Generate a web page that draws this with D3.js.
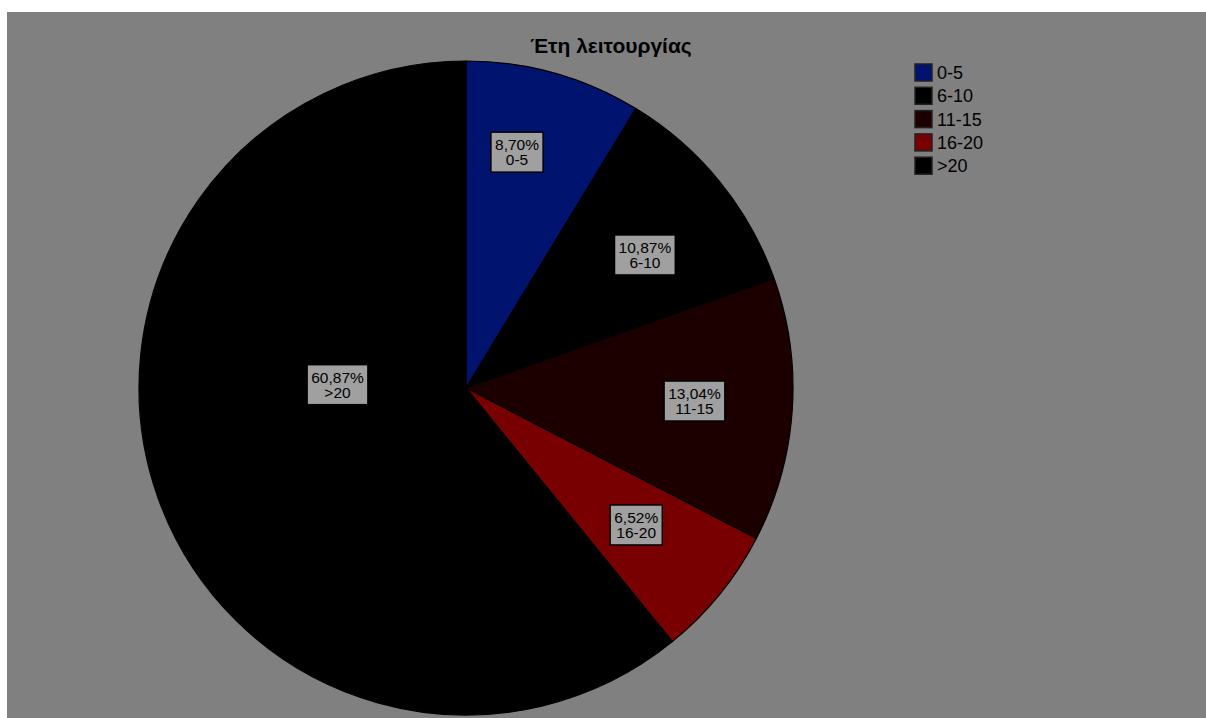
<!DOCTYPE html>
<html>
<head>
<meta charset="utf-8">
<script src="https://cdn.jsdelivr.net/npm/d3@7"></script>
<style>
  html, body { margin: 0; padding: 0; background: #ffffff; }
  svg { display: block; }
</style>
</head>
<body>
<svg id="chart" width="1206" height="718"></svg>
<script>
// ---- data ----
const title = "Έτη λειτουργίας";
const categories = ["0-5", "6-10", "11-15", "16-20", ">20"];
const counts = [4, 5, 6, 3, 28];
const percentLabels = ["8,70%", "10,87%", "13,04%", "6,52%", "60,87%"];
const colors = ["#00136e", "#000000", "#1c0000", "#780000", "#000000"];
// label placement (fraction of radius, angle nudge in degrees)
const labelRadiusFrac = [0.735, 0.68, 0.70, 0.67, 0.393];
const labelAngleNudge = [-3.4, 2.7, -0.4, -0.1, 20.6];

const W = 1206, H = 718;
const svg = d3.select("#chart");
const FONT = "Liberation Sans, Arial, sans-serif";

// gray plot area
svg.append("rect").attr("x", 7).attr("y", 12).attr("width", W - 7).attr("height", H - 12)
  .attr("fill", "#808080");

const cx = 466, cy = 388, R = 327;
const g = svg.append("g").attr("transform", `translate(${cx},${cy})`);

const pie = d3.pie().sort(null).value(d => d)(counts);
const arc = d3.arc().innerRadius(0).outerRadius(R);

g.selectAll("path.slice").data(pie).join("path")
  .attr("class", "slice")
  .attr("d", arc)
  .attr("fill", (d, i) => colors[i])
  .attr("stroke", "#000")
  .attr("stroke-width", 1.2)
  .attr("stroke-linejoin", "round");

// labels
const lbl = g.selectAll("g.lbl").data(pie).join("g").attr("class", "lbl")
  .attr("transform", (d, i) => {
    const a = (d.startAngle + d.endAngle) / 2 + labelAngleNudge[i] * Math.PI / 180;
    const r = R * labelRadiusFrac[i];
    return `translate(${r * Math.sin(a)},${-r * Math.cos(a)})`;
  });

lbl.each(function(d, i) {
  const s = d3.select(this);
  const rect = s.append("rect");
  const t1 = s.append("text")
    .attr("text-anchor", "middle").attr("font-family", FONT)
    .attr("font-size", 15.5).attr("fill", "#000")
    .attr("x", 0).attr("y", -3).text(percentLabels[i]);
  const t2 = s.append("text")
    .attr("text-anchor", "middle").attr("font-family", FONT)
    .attr("font-size", 15.5).attr("fill", "#000")
    .attr("x", 0).attr("y", 12).text(categories[i]);
  const w = Math.max(t1.node().getBBox().width, t2.node().getBBox().width) + 8, h = 40;
  rect.attr("x", -w / 2).attr("y", -h / 2 - 1).attr("width", w).attr("height", h)
    .attr("fill", "#a0a0a0").attr("stroke", "#000").attr("stroke-width", 1.5);
});

// title
svg.append("text").attr("x", 611).attr("y", 53)
  .attr("text-anchor", "middle")
  .attr("font-family", FONT)
  .attr("font-weight", "bold").attr("font-size", 21)
  .attr("fill", "#000").text(title);

// legend
const lg = svg.append("g").attr("transform", "translate(915,64)");
const rows = lg.selectAll("g").data(categories).join("g")
  .attr("transform", (d, i) => `translate(0,${i * 23.3})`);
rows.append("rect").attr("width", 17).attr("height", 17)
  .attr("fill", (d, i) => colors[i]).attr("stroke", "#222").attr("stroke-width", 1.5);
rows.append("text").attr("x", 22).attr("y", 15)
  .attr("font-family", FONT)
  .attr("font-size", 18).attr("fill", "#000").text(d => d);
</script>
</body>
</html>
